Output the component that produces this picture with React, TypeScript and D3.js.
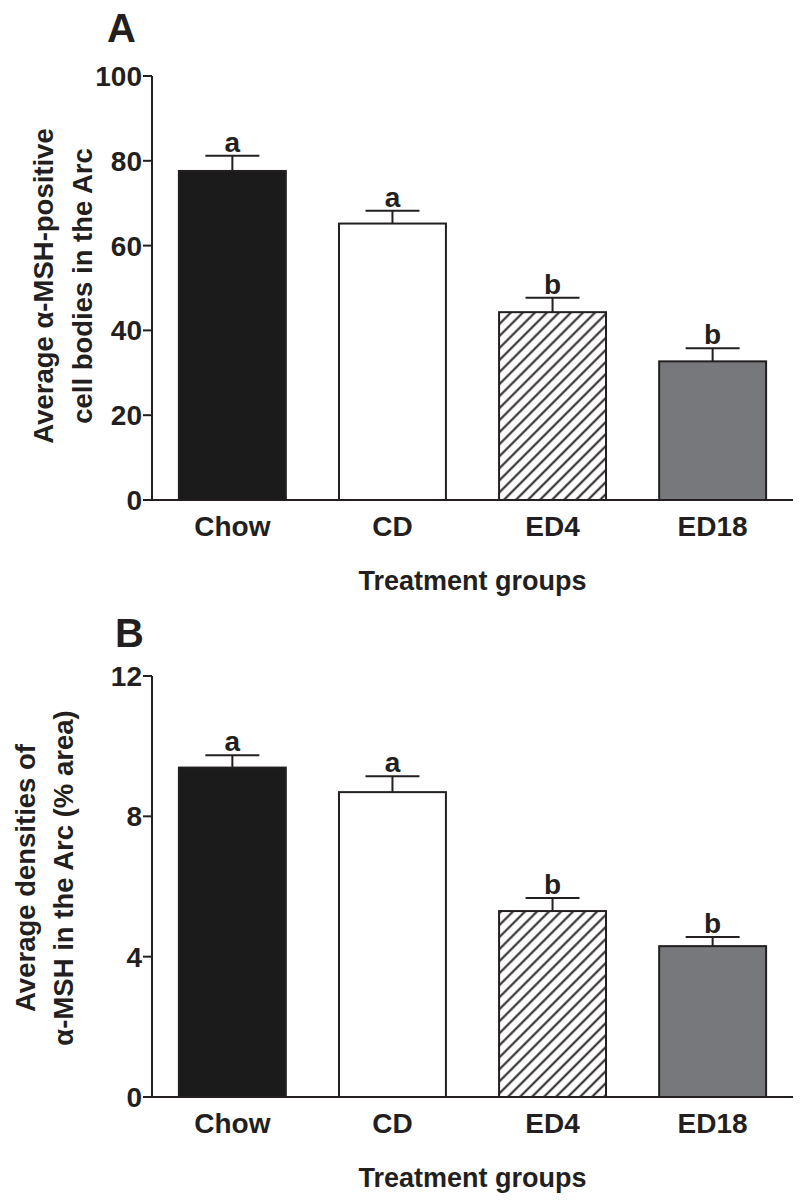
import React from "react";
import * as d3 from "d3";

const categories = ["Chow", "CD", "ED4", "ED18"];
const cellMeans = [77.6, 65.2, 44.3, 32.7];
const cellUpper = [81.2, 68.2, 47.7, 35.8];
const cellTicks = [0, 20, 40, 60, 80, 100];
const densMeans = [9.39, 8.69, 5.3, 4.3];
const densUpper = [9.74, 9.14, 5.67, 4.56];
const densTicks = [0, 4, 8, 12];
const letters = ["a", "a", "b", "b"];
const fills = ["#1b1b1b", "#ffffff", "url(#hatch)", "#77787b"];

const FONT = "'Liberation Sans', Arial, Helvetica, sans-serif";

type PanelProps = {
  label: string;
  labelX: number;
  labelY: number;
  means: number[];
  upper: number[];
  ticks: number[];
  yMax: number;
  yBottom: number;
  yTop: number;
  titleLines: string[];
  titleXs: number[];
  titleY: number;
};

function Panel(p: PanelProps) {
  const x = d3
    .scaleBand<string>()
    .domain(categories)
    .range([152, 793])
    .paddingInner(0.332)
    .paddingOuter(0.168);
  const y = d3.scaleLinear().domain([0, p.yMax]).range([p.yBottom, p.yTop]);
  const axisX = 152;
  const bw = x.bandwidth();
  return (
    <g fontFamily={FONT} fontWeight="bold" fill="#231f20">
      <text x={p.labelX} y={p.labelY} fontSize={40}>
        {p.label}
      </text>
      {categories.map((c, i) => {
        const x0 = x(c)!;
        const cx = x0 + bw / 2;
        return (
          <g key={c}>
            <line x1={cx} x2={cx} y1={y(p.means[i])} y2={y(p.upper[i])} stroke="#231f20" strokeWidth={2} />
            <line x1={cx - 27} x2={cx + 27} y1={y(p.upper[i])} y2={y(p.upper[i])} stroke="#231f20" strokeWidth={2} />
            <rect
              x={x0}
              y={y(p.means[i])}
              width={bw}
              height={y(0) - y(p.means[i])}
              fill={fills[i]}
              stroke="#231f20"
              strokeWidth={2}
            />
            <text x={cx} y={y(p.upper[i]) - 4} fontSize={28} textAnchor="middle">
              {letters[i]}
            </text>
            <text x={cx} y={y(0) + 36} fontSize={28} textAnchor="middle">
              {c}
            </text>
          </g>
        );
      })}
      <line x1={axisX} x2={axisX} y1={y(0)} y2={y(p.yMax)} stroke="#231f20" strokeWidth={2} />
      <line x1={axisX} x2={793} y1={y(0)} y2={y(0)} stroke="#231f20" strokeWidth={2} />
      {p.ticks.map((t) => (
        <g key={t}>
          <line x1={axisX - 9} x2={axisX} y1={y(t)} y2={y(t)} stroke="#231f20" strokeWidth={2} />
          <text x={axisX - 10} y={y(t)} dy="0.36em" fontSize={28} textAnchor="end">
            {t}
          </text>
        </g>
      ))}
      <text x={(axisX + 793) / 2} y={y(0) + 90} fontSize={27} textAnchor="middle">
        Treatment groups
      </text>
      {p.titleLines.map((line, i) => (
        <text
          key={i}
          transform={`translate(${p.titleXs[i]},${p.titleY}) rotate(-90)`}
          dy="0.36em"
          fontSize={27.5}
          textAnchor="middle"
        >
          {line}
        </text>
      ))}
    </g>
  );
}

export default function App() {
  return (
    <svg
      width={800}
      height={1200}
      style={{ position: "absolute", left: 0, top: 0, background: "#fff" }}
    >
      <defs>
        <pattern
          id="hatch"
          patternUnits="userSpaceOnUse"
          width={8.5}
          height={8.5}
          patternTransform="rotate(45)"
        >
          <rect width={8.5} height={8.5} fill="#fff" />
          <line x1={4.25} y1={0} x2={4.25} y2={8.5} stroke="#231f20" strokeWidth={2} />
        </pattern>
      </defs>
      <rect width={800} height={1200} fill="#fff" />
      <Panel
        label="A"
        labelX={107}
        labelY={42}
        means={cellMeans}
        upper={cellUpper}
        ticks={cellTicks}
        yMax={100}
        yBottom={500}
        yTop={76}
        titleLines={["Average \u03b1-MSH-positive", "cell bodies in the Arc"]}
        titleXs={[43, 82]}
        titleY={286}
      />
      <Panel
        label="B"
        labelX={115}
        labelY={647}
        means={densMeans}
        upper={densUpper}
        ticks={densTicks}
        yMax={12}
        yBottom={1097}
        yTop={676}
        titleLines={["Average densities of", "\u03b1-MSH in the Arc (% area)"]}
        titleXs={[25, 63]}
        titleY={878}
      />
    </svg>
  );
}
